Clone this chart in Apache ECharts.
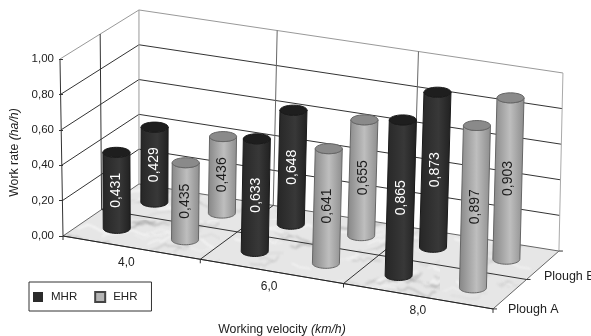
<!DOCTYPE html>
<html>
<head>
<meta charset="utf-8">
<title>Work rate</title>
<script src="https://cdn.jsdelivr.net/npm/echarts@6/dist/echarts.min.js"></script>
<style>
  html, body { margin: 0; padding: 0; background: #fff; }
  #chart { width: 591px; height: 336px; filter: blur(0.45px); }
</style>
</head>
<body>
<div id="chart"></div>
<script>
const velocities = ['4,0', '6,0', '8,0'];
const ploughs = ['Plough A', 'Plough B'];
const mhrPloughA = [0.431, 0.633, 0.865];
const mhrPloughB = [0.429, 0.648, 0.873];
const ehrPloughA = [0.435, 0.641, 0.897];
const ehrPloughB = [0.436, 0.655, 0.903];
const yTicks = [0, 0.2, 0.4, 0.6, 0.8, 1];
const rowDepth = [0.25, 0.75];

const font = '"Liberation Sans", Arial, sans-serif';
const comma = (v, d) => v.toFixed(d).replace('.', ',');

// box corners in axis units (x: one unit per velocity group, y: work rate)
const floorQuad = [[0, 0], [3, -0.412], [3.46, -0.085], [0.53, 0.294]];
const topQuad = [[-0.021, 1], [3.028, 0.621], [3.488, 0.921], [0.53, 1.277]];

// unit square -> quad
function homography(q) {
  const [p0, p1, p2, p3] = q;
  const dx1 = p1[0] - p2[0], dx2 = p3[0] - p2[0], sx = p0[0] - p1[0] + p2[0] - p3[0];
  const dy1 = p1[1] - p2[1], dy2 = p3[1] - p2[1], sy = p0[1] - p1[1] + p2[1] - p3[1];
  const den = dx1 * dy2 - dx2 * dy1;
  const g = (sx * dy2 - dx2 * sy) / den, h = (dx1 * sy - sx * dy1) / den;
  const a = p1[0] - p0[0] + g * p1[0], b = p3[0] - p0[0] + h * p3[0];
  const d = p1[1] - p0[1] + g * p1[1], e = p3[1] - p0[1] + h * p3[1];
  return (s, t) => {
    const w = g * s + h * t + 1;
    return [(a * s + b * t + p0[0]) / w, (d * s + e * t + p0[1]) / w];
  };
}
const floorAt = homography(floorQuad);
const topAt = homography(topQuad);

// u: 0..3 along velocity, v: 0..1 depth, h: work rate -> axis units
function project(u, v, h) {
  const p = floorAt(u / 3, v), q = topAt(u / 3, v);
  return [p[0] + (q[0] - p[0]) * h, p[1] + (q[1] - p[1]) * h];
}

// marble texture for the floor
function marble() {
  const c = document.createElement('canvas');
  c.width = c.height = 220;
  const ctx = c.getContext('2d');
  ctx.fillStyle = '#e6e6e6';
  ctx.fillRect(0, 0, 220, 220);
  let seed = 12345;
  const next = () => (seed = (seed * 1103515245 + 12345) % 2147483648) / 2147483648;
  ctx.filter = 'blur(1px)';
  for (let i = 0; i < 170; i++) {
    let x = next() * 220, y = next() * 220;
    ctx.beginPath();
    ctx.moveTo(x, y);
    const steps = 3 + Math.floor(next() * 6);
    for (let k = 0; k < steps; k++) {
      x += 2 + next() * 7;
      y += (next() - 0.55) * 10;
      ctx.lineTo(x, y);
    }
    ctx.strokeStyle = i % 2 === 0 ? 'rgba(250,250,250,0.8)' : 'rgba(130,130,130,' + (0.2 + next() * 0.3) + ')';
    ctx.lineWidth = 0.7 + next() * 1.3;
    ctx.stroke();
  }
  return c;
}
const marbleCanvas = marble();

function renderFrame(params, api) {
  const at = (u, v, h) => api.coord(project(u, v, h));
  const line = (a, b, color) => ({
    type: 'line',
    shape: { x1: a[0], y1: a[1], x2: b[0], y2: b[1] },
    style: { stroke: color, lineWidth: 1 }
  });
  const children = [];
  children.push({
    type: 'polygon',
    shape: { points: [at(0, 0, 0), at(3, 0, 0), at(3, 1, 0), at(0, 1, 0)] },
    style: { fill: { image: marbleCanvas, repeat: 'repeat' }, stroke: '#666', lineWidth: 1 }
  });
  yTicks.slice(1).forEach(h => {
    const c = h === 1 ? '#999' : '#333';
    children.push(line(at(0, 0, h), at(0, 1, h), c));
    children.push(line(at(0, 1, h), at(3, 1, h), c));
  });
  children.push(line(at(0, 0, 0), at(0, 0, 1), '#333'));
  children.push(line(at(0, 1, 0), at(0, 1, 1), '#999'));
  children.push(line(at(0, 0.5, 0), at(0, 0.5, 1), '#333'));
  children.push(line(at(3, 1, 0), at(3, 1, 1), '#aaa'));
  [1, 2].forEach(u => {
    children.push(line(at(u, 1, 0), at(u, 1, 1), '#666'));
    children.push(line(at(u, 0, 0), at(u, 1, 0), '#333'));
  });
  children.push(line(at(0, 0.5, 0), at(3, 0.5, 0), '#333'));
  children.push(line(at(0, 0, 0), at(3, 0, 0), '#222'));
  // ticks along the front and right floor edges
  [0, 1, 2, 3].forEach(u => {
    const p = at(u, 0, 0);
    children.push(line(p, [p[0], p[1] + 4], '#333'));
  });
  [0, 0.5, 1].forEach(v => {
    const p = at(3, v, 0);
    children.push(line(p, [p[0] + 4, p[1]], '#333'));
  });
  velocities.forEach((name, i) => {
    const p = at(i + 0.5, 0, 0);
    children.push({
      type: 'text',
      style: { text: name, x: p[0] - 2 + (i - 1) * 2.5, y: p[1] + 15, fill: '#222', font: '12px ' + font, align: 'center', verticalAlign: 'middle' }
    });
  });
  ploughs.forEach((name, i) => {
    const p = at(3, 0.25 + i * 0.5, 0);
    children.push({
      type: 'text',
      style: { text: name, x: p[0] + (i ? 1 : -2), y: p[1] + (i ? 11 : 15), fill: '#222', font: '12.5px ' + font, align: 'left', verticalAlign: 'middle' }
    });
  });
  return { type: 'group', children };
}

const rx = 13.5, ry = 5;
function renderCylinder(look) {
  return function (params, api) {
    const group = api.value(0), row = api.value(1), val = api.value(2);
    const u = group + look.offset, v = rowDepth[row];
    const b = api.coord(project(u, v, 0));
    const t = api.coord(project(u, v, val));
    const pts = [];
    for (let i = 0; i <= 24; i++) {
      const a = Math.PI * i / 24;
      pts.push([b[0] + rx * Math.cos(a), b[1] + ry * Math.sin(a)]);
    }
    for (let i = 0; i <= 24; i++) {
      const a = Math.PI * i / 24;
      pts.push([t[0] - rx * Math.cos(a), t[1] + ry * Math.sin(a)]);
    }
    return {
      type: 'group',
      children: [
        {
          type: 'polygon',
          shape: { points: pts },
          style: {
            fill: new echarts.graphic.LinearGradient(0, 0, 1, 0, look.body),
            stroke: look.edge, lineWidth: 1
          }
        },
        {
          type: 'ellipse',
          shape: { cx: t[0], cy: t[1], rx: rx, ry: ry },
          style: { fill: look.top, stroke: look.edge, lineWidth: 1 }
        },
        {
          type: 'text',
          x: (b[0] + t[0]) / 2,
          y: (b[1] + t[1]) / 2,
          rotation: Math.PI / 2,
          style: { text: comma(val, 3), fill: look.text, font: '14px ' + font, align: 'center', verticalAlign: 'middle' }
        }
      ]
    };
  };
}

const toRows = (a, b) => a.map((v, i) => [i, 0, v]).concat(b.map((v, i) => [i, 1, v]));
const mhrLook = {
  offset: 0.255, top: '#1e1e1e', edge: '#1a1a1a', text: '#fff',
  body: [{ offset: 0, color: '#262626' }, { offset: 0.6, color: '#383838' }, { offset: 1, color: '#202020' }]
};
const ehrLook = {
  offset: 0.755, top: '#8a8a8a', edge: '#666', text: '#1c1c1c',
  body: [{ offset: 0, color: '#858585' }, { offset: 0.55, color: '#bebebe' }, { offset: 1, color: '#8c8c8c' }]
};

const nameRich = {
  n: { fontFamily: font, fontSize: 12.3, color: '#222' },
  i: { fontFamily: font, fontSize: 12.3, fontStyle: 'italic', color: '#222' }
};

const chart = echarts.init(document.getElementById('chart'), null, { renderer: 'canvas' });
chart.setOption({
  animation: false,
  backgroundColor: '#fff',
  grid: { left: 63, top: 59, width: 430, height: 177, outerBoundsMode: 'none' },
  legend: {
    data: ['MHR', 'EHR'],
    left: 29, top: 282,
    itemWidth: 10, itemHeight: 10, itemGap: 17,
    padding: [9, 14, 8, 4],
    borderColor: '#333', borderWidth: 1,
    selectedMode: false,
    icon: 'rect',
    textStyle: { color: '#222', fontFamily: font, fontSize: 11.5, padding: [0, 0, 0, 3] }
  },
  xAxis: {
    type: 'value', min: 0, max: 3,
    name: '{n|Working velocity }{i|(km/h)}',
    nameLocation: 'middle', nameGap: 88,
    nameTextStyle: { rich: nameRich, padding: [0, 0, 0, 8] },
    axisLine: { show: false }, axisTick: { show: false }, axisLabel: { show: false }, splitLine: { show: false }
  },
  yAxis: {
    type: 'value', min: 0, max: 1, interval: 0.2,
    name: '{n|Work rate }{i|(ha/h)}',
    nameLocation: 'middle', nameGap: 38,
    nameTextStyle: { rich: nameRich, padding: [0, 10, 0, 0] },
    axisLine: { show: false },
    axisTick: { show: true, length: 4, lineStyle: { color: '#333' } },
    axisLabel: { color: '#222', fontFamily: font, fontSize: 11.5, margin: 9, formatter: v => comma(v, 2) },
    splitLine: { show: false }
  },
  series: [
    { name: 'frame', type: 'custom', silent: true, z: 1, data: [[0, 0]], renderItem: renderFrame },
    {
      name: 'MHR', type: 'custom', silent: true, z: 2,
      itemStyle: { color: '#2b2b2b' },
      encode: { x: 0, y: 2 },
      data: toRows(mhrPloughA, mhrPloughB),
      renderItem: renderCylinder(mhrLook)
    },
    {
      name: 'EHR', type: 'custom', silent: true, z: 2,
      itemStyle: { color: '#b5b5b5', borderColor: '#444', borderWidth: 1 },
      encode: { x: 0, y: 2 },
      data: toRows(ehrPloughA, ehrPloughB),
      renderItem: renderCylinder(ehrLook)
    }
  ]
});
</script>
</body>
</html>
